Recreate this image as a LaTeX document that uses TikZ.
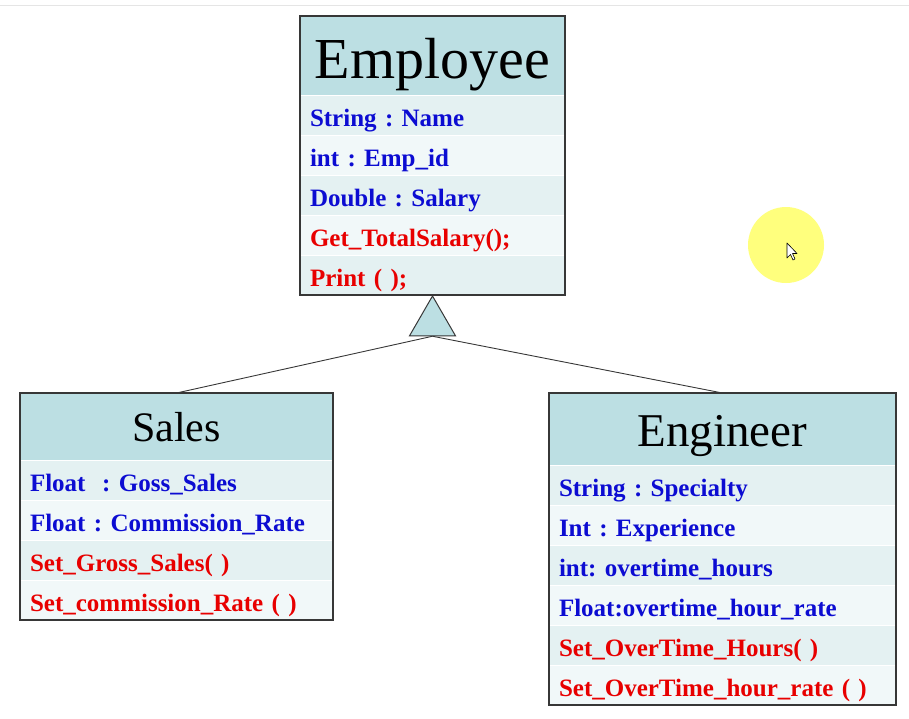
\documentclass[tikz,border=0pt]{standalone}
\usepackage{fontspec}
\setmainfont{Liberation Serif}
\usetikzlibrary{positioning,shapes.geometric}
\definecolor{chead}{RGB}{188,223,227}
\definecolor{crowa}{RGB}{228,241,242}
\definecolor{crowb}{RGB}{241,248,249}
\definecolor{cattr}{RGB}{12,12,210}
\definecolor{cmeth}{RGB}{232,0,0}
\definecolor{cline}{RGB}{55,55,55}
\definecolor{cspot}{RGB}{255,255,125}
\frenchspacing

\begin{document}
\begin{tikzpicture}[x=1pt,y=-1pt,
  hd/.style={rectangle,fill=chead,draw=white,line width=1pt,inner sep=0,outer sep=0,anchor=north west,text depth=5pt},
  row/.style={rectangle,draw=white,line width=1pt,inner xsep=10pt,inner ysep=0,outer sep=0,
    minimum height=40pt,text height=24pt,text depth=2pt,align=left,font=\bfseries\fontsize{25}{28}\selectfont},
  ra/.style={row,fill=crowa,below=0pt of #1},
  rb/.style={row,fill=crowb,below=0pt of #1},
  attr/.style={text=cattr},
  meth/.style={text=cmeth},
  frame/.style={draw=cline,line width=1.2pt},
  tri/.style={regular polygon,regular polygon sides=3,minimum size=53pt,inner sep=0,
    fill=chead,draw=cline,line width=1pt},
  link/.style={draw=cline,line width=0.9pt},
]
\useasboundingbox (0,0) rectangle (909,718);
\draw[gray!20] (0,5) -- (909,5);

% Employee
\begin{scope}[row/.append style={text width=245pt}]
  \node[hd,minimum width=265pt,minimum height=79pt,text height=50pt,font=\fontsize{58}{60}\selectfont] (emp) at (300,16) {Employee};
  \node[ra=emp,attr] (e1) {String : Name};
  \node[rb=e1,attr] (e2) {int : Emp\_id};
  \node[ra=e2,attr] (e3) {Double : Salary};
  \node[rb=e3,meth] (e4) {Get\_TotalSalary();};
  \node[ra=e4,meth] (e5) {Print ( );};
  \draw[frame] (emp.north west) rectangle (e5.south east);
\end{scope}
\node[tri,anchor=corner 1] (inh) at (e5.south) {};

% Sales
\begin{scope}[row/.append style={text width=293pt}]
  \node[hd,minimum width=313pt,minimum height=67pt,text height=34pt,font=\fontsize{42}{44}\selectfont] (sal) at (20,393) {Sales};
  \node[ra=sal,attr] (s1) {Float~~: Goss\_Sales};
  \node[rb=s1,attr] (s2) {Float : Commission\_Rate};
  \node[ra=s2,meth] (s3) {Set\_Gross\_Sales( )};
  \node[rb=s3,meth] (s4) {Set\_commission\_Rate ( )};
  \draw[frame] (sal.north west) rectangle (s4.south east);
\end{scope}

% Engineer
\begin{scope}[row/.append style={text width=327pt}]
  \node[hd,minimum width=347pt,minimum height=72pt,text height=39pt,font=\fontsize{47}{50}\selectfont] (eng) at (549,393) {Engineer};
  \node[ra=eng,attr] (g1) {String : Specialty};
  \node[rb=g1,attr] (g2) {Int : Experience};
  \node[ra=g2,attr] (g3) {int: overtime\_hours};
  \node[rb=g3,attr] (g4) {Float:overtime\_hour\_rate};
  \node[ra=g4,meth] (g5) {Set\_OverTime\_Hours( )};
  \node[rb=g5,meth] (g6) {Set\_OverTime\_hour\_rate ( )};
  \draw[frame] (eng.north west) rectangle (g6.south east);
\end{scope}

% Inheritance
\draw[link] (inh.side 2) -- (sal.north);
\draw[link] (inh.side 2) -- (eng.north);

% Pointer highlight
\node[circle,fill=cspot,minimum size=76pt,inner sep=0] (spot) at (786,245) {};
\draw[fill=white,line width=0.6pt,line join=round,shift={(787,243)}]
  (0,0) -- (0,15) -- (3.5,11.5) -- (6,17) -- (8,16) -- (5.5,10.5) -- (10,10.5) -- cycle;
\end{tikzpicture}
\end{document}
